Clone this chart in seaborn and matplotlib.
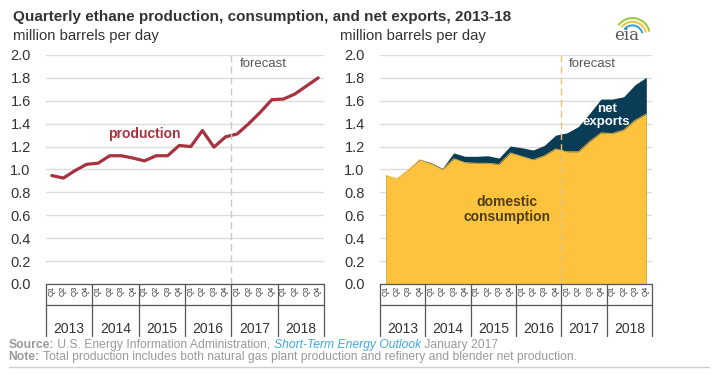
import numpy as np
import matplotlib
matplotlib.use("Agg")
import matplotlib.pyplot as plt
import matplotlib.transforms as mtransforms
from matplotlib.patches import Arc
import seaborn as sns
import pandas as pd

YEARS = ["2013", "2014", "2015", "2016", "2017", "2018"]
QUARTERS = ["Q1", "Q2", "Q3", "Q4"]

# million barrels per day, Q1 2013 .. Q4 2018
production = [0.947, 0.925, 0.99, 1.045, 1.055, 1.12, 1.12, 1.10,
              1.075, 1.12, 1.12, 1.21, 1.20, 1.34, 1.195, 1.285,
              1.31, 1.40, 1.50, 1.61, 1.615, 1.66, 1.73, 1.80]
consumption = [0.95, 0.92, 1.0, 1.085, 1.05, 1.0, 1.095, 1.06,
               1.055, 1.055, 1.045, 1.145, 1.115, 1.085, 1.12, 1.18,
               1.155, 1.155, 1.245, 1.32, 1.315, 1.345, 1.43, 1.485]
net_exports = [0.0, 0.0, 0.0, 0.005, 0.01, 0.01, 0.05, 0.055,
               0.06, 0.065, 0.055, 0.06, 0.075, 0.085, 0.09, 0.12,
               0.165, 0.22, 0.245, 0.295, 0.30, 0.29, 0.31, 0.32]

RED = "#a6333f"
YELLOW = "#fdc23e"
NAVY = "#0b3c55"
GRID = "#dcdcdc"
TXT = "#333333"

sns.set_theme(style="white")
plt.rcParams["font.family"] = ["Liberation Sans", "DejaVu Sans"]

df = pd.DataFrame({
    "pos": np.arange(len(production)),
    "production": production,
    "consumption": consumption,
    "total": np.array(consumption) + np.array(net_exports),
})

fig = plt.figure(figsize=(7.27, 3.75), dpi=100)
ax1 = fig.add_axes([0.0633, 0.2427, 0.3824, 0.6107])
ax2 = fig.add_axes([0.5227, 0.2427, 0.3741, 0.6107])


def style_axis(ax):
    ax.set_xlim(-0.5, 23.5)
    ax.set_ylim(0, 2.0)
    ax.set_yticks(np.arange(0, 2.01, 0.2))
    ax.set_yticklabels([f"{v:.1f}" for v in np.arange(0, 2.01, 0.2)],
                       fontsize=10.5, color=TXT)
    ax.grid(axis="y", color=GRID, linewidth=1.0, zorder=0)
    ax.tick_params(axis="y", length=0, pad=11)
    for s in ax.spines.values():
        s.set_visible(False)
    ax.set_xlabel("")
    ax.set_ylabel("")
    # quarter labels
    ax.set_xticks(range(24))
    ax.set_xticklabels(QUARTERS * 6, rotation=90, fontsize=5.5, color=TXT)
    ax.tick_params(axis="x", length=0, pad=1.5)
    tr = mtransforms.blended_transform_factory(ax.transData, ax.transAxes)
    lw, lc = 0.9, "#555555"
    ax.plot([-0.5, 23.5], [0, 0], color=lc, lw=lw, transform=tr, clip_on=False, zorder=5)
    ax.plot([-0.5, 23.5], [-0.092, -0.092], color=lc, lw=lw, transform=tr, clip_on=False)
    for k in range(7):
        x = -0.5 + 4 * k
        ax.plot([x, x], [0, -0.225], color=lc, lw=lw, transform=tr, clip_on=False)
    for k, y in enumerate(YEARS):
        ax.text(1.5 + 4 * k, -0.195, y, transform=tr, ha="center", va="center",
                fontsize=10, color=TXT)
    ax.text(16.2, 1.92, "forecast", fontsize=9.5, color="#555555", va="center")


style_axis(ax1)
ax1.axvline(15.5, color="#c8c8c8", lw=1.0, ls=(0, (5, 3)), zorder=4)
sns.lineplot(data=df, x="pos", y="production", color=RED, linewidth=2.3, ax=ax1, zorder=3)
ax1.set_xlabel("")
ax1.set_ylabel("")
ax1.text(8.0, 1.31, "production", color=RED, fontsize=10, fontweight="bold",
         ha="center", va="center")

style_axis(ax2)
ax2.fill_between(df["pos"], 0, df["total"], color=NAVY, lw=0, zorder=2)
ax2.fill_between(df["pos"], 0, df["consumption"], color=YELLOW, lw=0, zorder=3)
sns.lineplot(data=df, x="pos", y="consumption", color=YELLOW, linewidth=0.5, ax=ax2, zorder=3)
ax2.set_xlabel("")
ax2.set_ylabel("")
ax2.axvline(15.5, color="#e2c47a", lw=1.0, ls=(0, (5, 3)), zorder=4)
ax2.text(19.5, 1.47, "net\nexports", color="white", fontsize=9.5, fontweight="bold",
         ha="center", va="center", linespacing=1.05, zorder=6)
ax2.text(10.7, 0.65, "domestic\nconsumption", color="#4a3f1c", fontsize=10,
         fontweight="bold", ha="center", va="center", linespacing=1.05, zorder=6)

# titles
fig.text(0.018, 0.955, "Quarterly ethane production, consumption, and net exports, 2013-18",
         fontsize=11, fontweight="bold", color=TXT, va="center")
fig.text(0.018, 0.903, "million barrels per day", fontsize=10.7, color=TXT, va="center")
fig.text(0.468, 0.903, "million barrels per day", fontsize=10.7, color=TXT, va="center")

# eia logo
fig.text(0.862, 0.905, "eia", fontsize=12, family="DejaVu Serif", color="#555555",
         ha="center", va="center")
for r, c in [(0.024, "#9ccb3b"), (0.019, "#f5c342"), (0.014, "#35a8e0")]:
    fig.add_artist(Arc((0.870, 0.905), r * 2.0, r * 3.9, theta1=25, theta2=125,
                       color=c, lw=1.5, transform=fig.transFigure))

# source / note
y1, y2 = 0.071, 0.039
fs = 8.7
t = fig.text(0.012, y1, "Source:", fontsize=fs, fontweight="bold", color="#9a9a9a")
fig.canvas.draw()
r = fig.canvas.get_renderer()
x = 0.012 + t.get_window_extent(r).width / fig.bbox.width
t = fig.text(x, y1, " U.S. Energy Information Administration, ", fontsize=fs, color="#9a9a9a")
x += t.get_window_extent(r).width / fig.bbox.width
t = fig.text(x, y1, "Short-Term Energy Outlook", fontsize=fs, style="italic", color="#3fa9e0")
x += t.get_window_extent(r).width / fig.bbox.width
fig.text(x, y1, " January 2017", fontsize=fs, color="#9a9a9a")
t = fig.text(0.012, y2, "Note:", fontsize=fs, fontweight="bold", color="#9a9a9a")
x = 0.012 + t.get_window_extent(r).width / fig.bbox.width
fig.text(x, y2, " Total production includes both natural gas plant production and refinery and blender net production.",
         fontsize=fs, color="#9a9a9a")
fig.add_artist(plt.Line2D([0.012, 0.975], [0.022, 0.022], color="#d0d0d0", lw=1.0,
                          transform=fig.transFigure))

fig.savefig("out.png", dpi=100)
